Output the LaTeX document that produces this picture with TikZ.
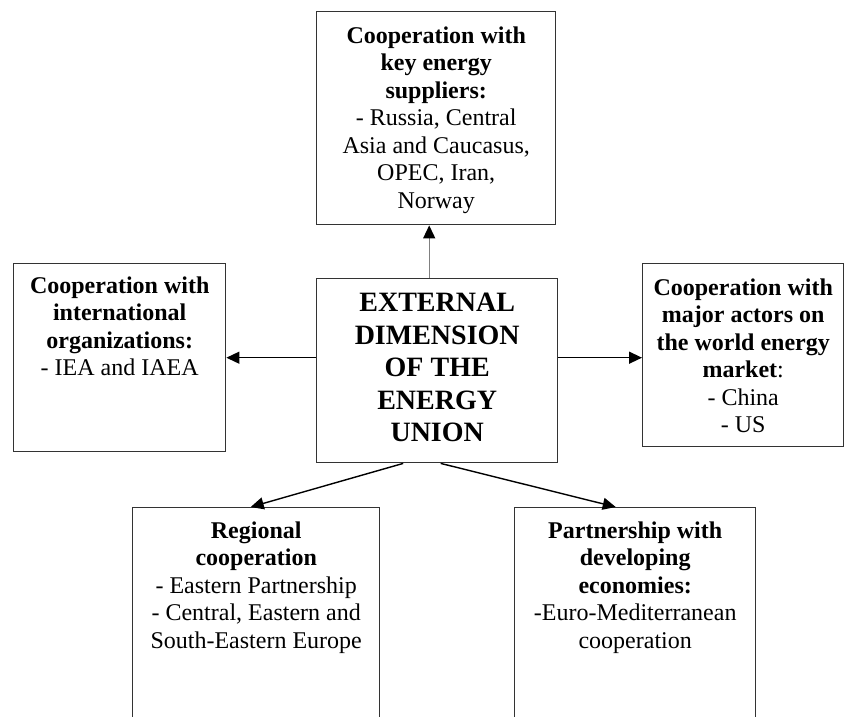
\documentclass[tikz,border=0pt]{standalone}
\usepackage{fontspec}
\setmainfont{Liberation Serif}
\usetikzlibrary{positioning, arrows.meta}
\tikzset{
    box/.style = {draw = black!80, line width = 0.7pt, inner sep = 0pt, anchor = north west},
    box text/.style = {anchor = north, align = center, inner sep = 0pt, font = \fontsize{12}{13.75}\selectfont},
    link/.style = {draw, line width = 0.7pt, -{Triangle[length = 6.5pt, width = 6pt, color = black]}},
}

\begin{document}
\begin{tikzpicture}[x = 0.5pt, y = -0.5pt]
            \useasboundingbox (0, 0) rectangle (844, 716);
            \clip (0, 0) rectangle (844, 716);

            \node[box, minimum width = 119.5pt, minimum height = 106.5pt] (sup) at (316, 11) {};
            \node[box, minimum width = 106pt, minimum height = 94pt] (org) at (13, 263) {};
            \node[box, minimum width = 120.5pt, minimum height = 92pt] (eu) at (316, 278) {};
            \node[box, minimum width = 100.5pt, minimum height = 91.5pt] (mkt) at (642, 263) {};
            \node[box, minimum width = 123.5pt, minimum height = 130pt] (reg) at (132, 507) {};
            \node[box, minimum width = 120.5pt, minimum height = 130pt] (dev) at (514, 507) {};

            \node[box text] (sup text) at ([yshift = -7.5pt]sup.north)
                {\textbf{Cooperation with}\\ \textbf{key energy}\\ \textbf{suppliers:}\\
                 - Russia, Central\\ Asia and Caucasus,\\ OPEC, Iran,\\ Norway};
            \node[box text] (org text) at ([yshift = -6.5pt]org.north)
                {\textbf{Cooperation with}\\ \textbf{international}\\ \textbf{organizations:}\\ - IEA and IAEA};
            \node[box text, font = \fontsize{14}{16.25}\selectfont\bfseries] (eu text) at ([yshift = -7.5pt]eu.north)
                {EXTERNAL\\ DIMENSION\\ OF THE\\ ENERGY\\ UNION};
            \node[box text] (mkt text) at ([yshift = -7.5pt]mkt.north)
                {\textbf{Cooperation with}\\ \textbf{major actors on}\\ \textbf{the world energy}\\
                 \textbf{market}:\\ - China\\ - US};
            \node[box text] (reg text) at ([yshift = -7pt]reg.north)
                {\textbf{Regional}\\ \textbf{cooperation}\\ - Eastern Partnership\\
                 - Central, Eastern and\\ South-Eastern Europe};
            \node[box text] (dev text) at ([yshift = -7pt]dev.north)
                {\textbf{Partnership with}\\ \textbf{developing}\\ \textbf{economies:}\\
                 -Euro-Mediterranean\\ cooperation};

            \draw[link, draw = black!50] ([xshift = -4pt]eu.north) -- ([xshift = -4pt]eu.north |- sup.south);
            \draw[link] (eu.west |- org.east) -- (org.east);
            \draw[link] (eu.east |- org.east) -- (mkt.west |- org.east);
            \draw[link] ([xshift = -17pt]eu.south) -- ([xshift = -2.75pt]reg.north);
            \draw[link] ([xshift = 1.75pt]eu.south) -- ([xshift = -9.75pt]dev.north);
        \end{tikzpicture}
\end{document}
